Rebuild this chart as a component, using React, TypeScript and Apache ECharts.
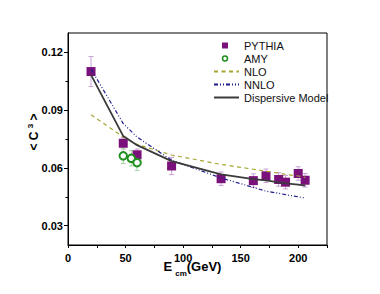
import React, { useEffect, useRef } from "react";
import * as echarts from "echarts";

const pythiaE = [20, 48, 60, 90, 133, 161, 172, 183, 189, 200, 206];
const pythiaV = [0.110, 0.0728, 0.0668, 0.0610, 0.0544, 0.0534, 0.0559, 0.0540, 0.0526, 0.0571, 0.0536];
const pythiaErr = [0.0078, 0.003, 0.003, 0.0045, 0.0035, 0.0035, 0.0035, 0.0035, 0.0035, 0.0035, 0.0035];

const amyE = [48, 55, 60];
const amyV = [0.0663, 0.0650, 0.0627];
const amyErr = [0.004, 0.004, 0.004];

const curveE = [20, 48, 60, 90, 133, 161, 172, 183, 189, 200, 206];
const nloV = [0.0876, 0.0760, 0.0722, 0.0667, 0.0618, 0.0593, 0.0583, 0.0573, 0.0566, 0.0558, 0.0551];
const nnloV = [0.1113, 0.0830, 0.0760, 0.0640, 0.0548, 0.0499, 0.0479, 0.0468, 0.0461, 0.0450, 0.0444];
const dispV = [0.1083, 0.0765, 0.0718, 0.0635, 0.0567, 0.0542, 0.0535, 0.0525, 0.0520, 0.0513, 0.0508];

const xLabels = [0, 50, 100, 150, 200];
const xTicks = [0, 25, 50, 75, 100, 125, 150, 175, 200, 225];
const yLabels = [0.03, 0.06, 0.09, 0.12];
const yMinorTicks = [0.045, 0.075, 0.105];

const FONT = "'Liberation Sans', Arial, sans-serif";

function errorBars(color: string) {
  return (params: any, api: any) => {
    const x = api.value(0);
    const y = api.value(1);
    const e = api.value(2);
    const top = api.coord([x, y + e]);
    const bot = api.coord([x, y - e]);
    const cw = 2.5;
    const st = { stroke: color, lineWidth: 1 };
    return {
      type: "group",
      children: [
        { type: "line", shape: { x1: top[0], y1: top[1], x2: bot[0], y2: bot[1] }, style: st },
        { type: "line", shape: { x1: top[0] - cw, y1: top[1], x2: top[0] + cw, y2: top[1] }, style: st },
        { type: "line", shape: { x1: bot[0] - cw, y1: bot[1], x2: bot[0] + cw, y2: bot[1] }, style: st },
      ],
    };
  };
}

export default function App() {
  const ref = useRef<HTMLDivElement>(null);
  useEffect(() => {
    if (!ref.current) return;
    const chart = echarts.init(ref.current, null, { renderer: "svg" });
    const purple = "#7a117a";
    const green = "#1f8f1f";
    const nloColor = "#a5a530";
    const nnloColor = "#1c1c8c";
    const dispColor = "#3a3a3a";
    const yAxisBase = {
      type: "value",
      min: 0.02,
      max: 0.13,
      position: "left",
      axisLine: { show: true, lineStyle: { color: "#000", width: 1 } },
      splitLine: { show: false },
    };
    chart.setOption({
      animation: false,
      textStyle: { fontFamily: FONT },
      grid: {
        left: 68,
        right: 53,
        top: 33,
        bottom: 49,
        show: true,
        borderColor: "#000",
        borderWidth: 1,
        containLabel: false,
      },
      legend: {
        orient: "vertical",
        left: 208,
        top: 35,
        itemWidth: 25,
        itemHeight: 6,
        itemGap: 2,
        textStyle: { fontSize: 11, color: "#111", fontFamily: FONT },
        data: [
          { name: "PYTHIA", icon: "path://M0,3L0,3M8,0L14,0L14,6L8,6ZM25,3L25,3" },
          {
            name: "AMY",
            icon: "path://M0,3L0,3M8.5,3A2.5,2.5 0 1 1 13.5,3A2.5,2.5 0 1 1 8.5,3ZM25,3L25,3",
            itemStyle: { borderWidth: 1.5 },
          },
          { name: "NLO", itemStyle: { opacity: 0 } },
          { name: "NNLO", itemStyle: { opacity: 0 } },
          { name: "Dispersive Model", itemStyle: { opacity: 0 } },
        ],
      },
      xAxis: {
        type: "value",
        min: 0,
        max: 225,
        axisLine: { show: true, lineStyle: { color: "#000", width: 1 } },
        splitLine: { show: false },
        axisTick: { show: true, length: 3, customValues: xTicks, lineStyle: { color: "#000" } },
        axisLabel: {
          customValues: xLabels,
          fontSize: 11,
          fontWeight: "bold",
          color: "#000",
          margin: 7,
          fontFamily: FONT,
        },
        name: "E{sub|cm}(GeV)",
        nameLocation: "middle",
        nameGap: 10,
        nameMoveOverlap: false,
        nameTextStyle: {
          fontSize: 13,
          fontWeight: "bold",
          color: "#000",
          fontFamily: FONT,
          lineHeight: 22,
          padding: [0, 10, 0, 0],
          rich: {
            sub: { fontSize: 8, fontWeight: "bold", verticalAlign: "bottom", lineHeight: 22, padding: [0, 0, 0, 3], fontFamily: FONT },
          },
        },
      },
      yAxis: [
        {
          ...yAxisBase,
          axisTick: { show: true, length: 4, customValues: yLabels, lineStyle: { color: "#000" } },
          axisLabel: {
            customValues: yLabels,
            fontSize: 11,
            fontWeight: "bold",
            color: "#000",
            margin: 5,
            fontFamily: FONT,
            formatter: (v: number) => v.toFixed(2),
          },
          name: "< C {sup|3} >",
          nameLocation: "middle",
          nameRotate: 90,
          nameGap: 26,
          nameMoveOverlap: false,
          nameTextStyle: {
            fontSize: 12,
            fontWeight: "bold",
            color: "#000",
            fontFamily: FONT,
            lineHeight: 16,
            padding: [0, 0, 0, 14],
            rich: {
              sup: { fontSize: 8, fontWeight: "bold", verticalAlign: "top", lineHeight: 16, fontFamily: FONT },
            },
          },
        },
        {
          ...yAxisBase,
          axisTick: { show: true, length: 2.5, customValues: yMinorTicks, lineStyle: { color: "#000" } },
          axisLabel: { show: false },
        },
      ],
      series: [
        {
          name: "pythiaErr",
          type: "custom",
          renderItem: errorBars("#c9a3d6"),
          data: pythiaE.map((e, i) => [e, pythiaV[i], pythiaErr[i]]),
          encode: { x: 0, y: 1 },
          z: 1,
        },
        {
          name: "amyErr",
          type: "custom",
          renderItem: errorBars("#a3d6a3"),
          data: amyE.map((e, i) => [e, amyV[i], amyErr[i]]),
          encode: { x: 0, y: 1 },
          z: 1,
        },
        {
          name: "PYTHIA",
          type: "scatter",
          symbol: "rect",
          symbolSize: 9,
          itemStyle: { color: purple, opacity: 1 },
          data: pythiaE.map((e, i) => [e, pythiaV[i]]),
          z: 2,
        },
        {
          name: "AMY",
          type: "scatter",
          symbol: "circle",
          symbolSize: 7.5,
          itemStyle: { color: "#ffffff", borderColor: green, borderWidth: 2, opacity: 1 },
          data: amyE.map((e, i) => [e, amyV[i]]),
          z: 3,
        },
        {
          name: "NLO",
          type: "line",
          symbol: "none",
          lineStyle: { color: nloColor, width: 1.2, type: [4, 3.5] },
          itemStyle: { color: nloColor },
          data: curveE.map((e, i) => [e, nloV[i]]),
          z: 4,
        },
        {
          name: "NNLO",
          type: "line",
          symbol: "none",
          lineStyle: { color: nnloColor, width: 1.2, type: [4, 2, 1, 2, 1, 2] },
          itemStyle: { color: nnloColor },
          data: curveE.map((e, i) => [e, nnloV[i]]),
          z: 4,
        },
        {
          name: "Dispersive Model",
          type: "line",
          symbol: "none",
          lineStyle: { color: dispColor, width: 1.8 },
          itemStyle: { color: dispColor },
          data: curveE.map((e, i) => [e, dispV[i]]),
          z: 5,
        },
      ],
    });
    return () => chart.dispose();
  }, []);
  return (
    <div
      ref={ref}
      style={{ position: "fixed", left: 0, top: 0, width: 380, height: 294, background: "#fff" }}
    />
  );
}
